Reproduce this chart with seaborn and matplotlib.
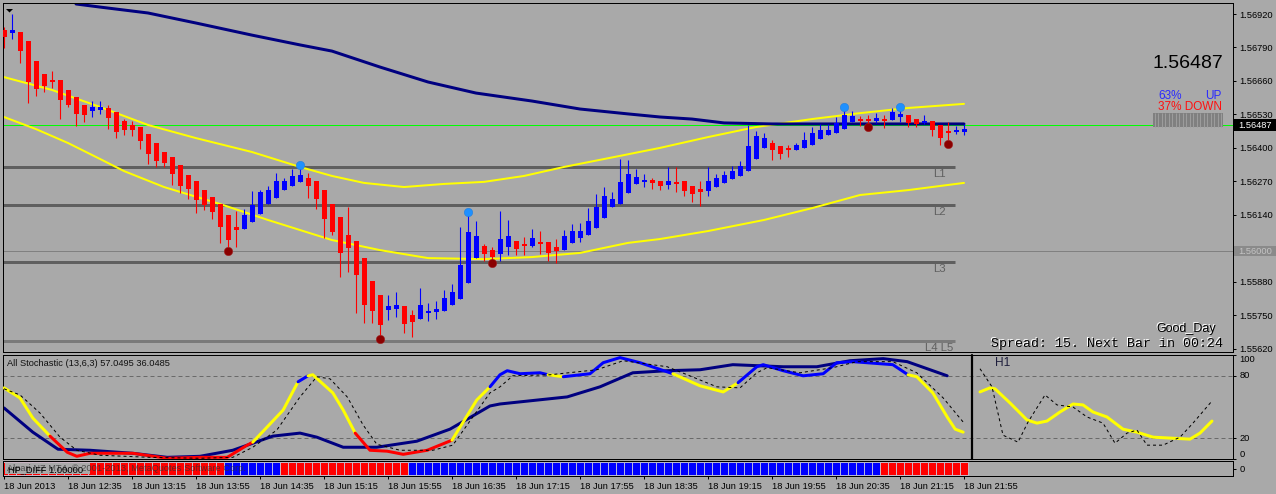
import matplotlib
matplotlib.use("Agg")
import matplotlib.pyplot as plt
import seaborn as sns
import numpy as np
from matplotlib.patches import Rectangle, Polygon

# ---------------- data ----------------
bar_open = [1.56858, 1.56846, 1.56850, 1.56815, 1.56737, 1.56687, 1.56660, 1.56664, 1.56625, 1.56598,
            1.56567, 1.56543, 1.56547, 1.56555, 1.56539, 1.56504, 1.56489, 1.56481, 1.56454, 1.56419,
            1.56384, 1.56365, 1.56333, 1.56295, 1.56271, 1.56236, 1.56209, 1.56182, 1.56139, 1.56093,
            1.56085, 1.56112, 1.56143, 1.56182, 1.56205, 1.56236, 1.56252, 1.56267, 1.56283, 1.56271,
            1.56236, 1.56182, 1.56132, 1.56062, 1.56038, 1.55972, 1.55883, 1.55829, 1.55770, 1.55774,
            1.55786, 1.55751, 1.55735, 1.55759, 1.55763, 1.55766, 1.55790, 1.55813, 1.55875, 1.55972,
            1.56019, 1.56003, 1.55988, 1.56015, 1.56038, 1.56023, 1.56019, 1.56034, 1.56034, 1.56015,
            1.56003, 1.56031, 1.56050, 1.56062, 1.56089, 1.56128, 1.56170, 1.56182, 1.56225, 1.56260,
            1.56271, 1.56275, 1.56271, 1.56256, 1.56267, 1.56271, 1.56252, 1.56236, 1.56233, 1.56248,
            1.56264, 1.56279, 1.56291, 1.56310, 1.56357, 1.56400, 1.56419, 1.56407, 1.56396, 1.56392,
            1.56400, 1.56411, 1.56434, 1.56450, 1.56458, 1.56473, 1.56501, 1.56512, 1.56512, 1.56504,
            1.56512, 1.56508, 1.56520, 1.56528, 1.56512, 1.56501, 1.56504, 1.56489, 1.56462, 1.56466,
            1.56462]
bar_high = [1.56869, 1.56920, 1.56850, 1.56815, 1.56737, 1.56687, 1.56699, 1.56664, 1.56625, 1.56598,
            1.56567, 1.56582, 1.56582, 1.56567, 1.56539, 1.56512, 1.56504, 1.56481, 1.56454, 1.56419,
            1.56384, 1.56365, 1.56333, 1.56295, 1.56271, 1.56236, 1.56209, 1.56182, 1.56139, 1.56155,
            1.56163, 1.56233, 1.56236, 1.56252, 1.56302, 1.56283, 1.56318, 1.56326, 1.56302, 1.56271,
            1.56236, 1.56182, 1.56132, 1.56170, 1.56038, 1.55972, 1.55883, 1.55829, 1.55829, 1.55840,
            1.55786, 1.55770, 1.55856, 1.55797, 1.55805, 1.55848, 1.55871, 1.56093, 1.56147, 1.56116,
            1.56027, 1.56015, 1.56155, 1.56120, 1.56038, 1.56054, 1.56085, 1.56077, 1.56034, 1.56046,
            1.56081, 1.56104, 1.56108, 1.56166, 1.56221, 1.56248, 1.56229, 1.56357, 1.56353, 1.56318,
            1.56299, 1.56283, 1.56271, 1.56326, 1.56326, 1.56271, 1.56252, 1.56271, 1.56326, 1.56299,
            1.56310, 1.56330, 1.56349, 1.56489, 1.56466, 1.56458, 1.56431, 1.56407, 1.56411, 1.56419,
            1.56462, 1.56481, 1.56493, 1.56493, 1.56520, 1.56551, 1.56543, 1.56524, 1.56528, 1.56535,
            1.56528, 1.56555, 1.56555, 1.56528, 1.56512, 1.56528, 1.56504, 1.56489, 1.56501, 1.56485,
            1.56493]
bar_low = [1.56788, 1.56823, 1.56730, 1.56574, 1.56601, 1.56617, 1.56633, 1.56512, 1.56559, 1.56485,
           1.56501, 1.56520, 1.56532, 1.56473, 1.56438, 1.56450, 1.56446, 1.56396, 1.56337, 1.56326,
           1.56326, 1.56256, 1.56225, 1.56201, 1.56147, 1.56159, 1.56124, 1.56031, 1.56015, 1.56015,
           1.56085, 1.56112, 1.56143, 1.56182, 1.56205, 1.56236, 1.56252, 1.56267, 1.56205, 1.56163,
           1.56050, 1.56062, 1.55898, 1.55918, 1.55759, 1.55720, 1.55720, 1.55673, 1.55731, 1.55743,
           1.55681, 1.55665, 1.55735, 1.55728, 1.55735, 1.55766, 1.55790, 1.55813, 1.55875, 1.55972,
           1.55961, 1.55965, 1.55961, 1.55984, 1.55984, 1.55984, 1.56015, 1.55988, 1.55961, 1.55953,
           1.56003, 1.56031, 1.56034, 1.56062, 1.56089, 1.56128, 1.56170, 1.56182, 1.56225, 1.56260,
           1.56248, 1.56240, 1.56236, 1.56240, 1.56229, 1.56213, 1.56190, 1.56174, 1.56213, 1.56248,
           1.56264, 1.56279, 1.56291, 1.56310, 1.56357, 1.56400, 1.56353, 1.56357, 1.56365, 1.56392,
           1.56400, 1.56411, 1.56434, 1.56450, 1.56458, 1.56473, 1.56501, 1.56485, 1.56477, 1.56497,
           1.56477, 1.56508, 1.56501, 1.56481, 1.56481, 1.56493, 1.56446, 1.56411, 1.56431, 1.56454,
           1.56450]
bar_close = [1.56831, 1.56858, 1.56776, 1.56656, 1.56629, 1.56640, 1.56656, 1.56586, 1.56567, 1.56532,
             1.56528, 1.56559, 1.56559, 1.56516, 1.56462, 1.56469, 1.56469, 1.56427, 1.56376, 1.56349,
             1.56341, 1.56299, 1.56252, 1.56240, 1.56198, 1.56178, 1.56151, 1.56093, 1.56042, 1.56081,
             1.56139, 1.56178, 1.56229, 1.56236, 1.56271, 1.56271, 1.56291, 1.56295, 1.56252, 1.56201,
             1.56124, 1.56073, 1.55992, 1.56011, 1.55906, 1.55790, 1.55766, 1.55712, 1.55786, 1.55790,
             1.55716, 1.55724, 1.55790, 1.55766, 1.55774, 1.55817, 1.55840, 1.55945, 1.56073, 1.56058,
             1.55988, 1.55976, 1.56046, 1.56058, 1.56007, 1.56019, 1.56050, 1.56031, 1.55992, 1.55999,
             1.56058, 1.56077, 1.56077, 1.56116, 1.56170, 1.56213, 1.56201, 1.56267, 1.56299, 1.56287,
             1.56275, 1.56264, 1.56252, 1.56271, 1.56264, 1.56233, 1.56221, 1.56233, 1.56271, 1.56283,
             1.56295, 1.56310, 1.56330, 1.56407, 1.56446, 1.56438, 1.56392, 1.56376, 1.56392, 1.56411,
             1.56431, 1.56458, 1.56469, 1.56469, 1.56497, 1.56528, 1.56524, 1.56504, 1.56504, 1.56516,
             1.56508, 1.56539, 1.56532, 1.56497, 1.56493, 1.56504, 1.56469, 1.56438, 1.56458, 1.56469,
             1.56473]

ma_slow_bar = [9, 12, 18, 24, 31, 37, 41, 47, 53, 59, 66, 72, 78, 82, 86, 90, 96, 120]
ma_slow_val = [1.56959, 1.56947, 1.56924, 1.56885, 1.56838, 1.56800, 1.56776, 1.56714, 1.56656,
               1.56613, 1.56582, 1.56551, 1.56532, 1.56520, 1.56512, 1.56497, 1.56493, 1.56493]

band_up_bar = [0, 6, 12, 18, 24, 31, 37, 41, 45, 50, 55, 60, 65, 70, 77, 82, 88, 94, 101, 107, 113, 120]
band_up_val = [1.56675, 1.56625, 1.56559, 1.56489, 1.56438, 1.56384, 1.56326, 1.56291, 1.56264, 1.56248,
               1.56260, 1.56268, 1.56291, 1.56326, 1.56369, 1.56400, 1.56442, 1.56481, 1.56512, 1.56535,
               1.56555, 1.56571]

band_lo_bar = [0, 4, 8, 12, 15, 20, 27, 33, 41, 47, 53, 60, 66, 72, 78, 82, 88, 95, 101, 107, 113, 120]
band_lo_val = [1.56520, 1.56473, 1.56419, 1.56357, 1.56310, 1.56248, 1.56182, 1.56120, 1.56042, 1.56003,
               1.55972, 1.55968, 1.55976, 1.55992, 1.56031, 1.56046, 1.56077, 1.56120, 1.56166, 1.56217,
               1.56236, 1.56264]

level_names = ["L1", "L2", "L3", "L4 L5"]
level_vals = [1.56326, 1.56178, 1.55957, 1.55650]
level_end_bar = 118.9
bid_price = 1.56487
round_price = 1.56000

up_dot_bar = [37, 58, 105, 112]
up_dot_val = [1.56334, 1.56151, 1.56559, 1.56559]
dn_dot_bar = [28, 47, 61, 108, 118]
dn_dot_val = [1.55999, 1.55658, 1.55953, 1.56481, 1.56415]

price_ticks = [1.55620, 1.55750, 1.55880, 1.56010, 1.56140, 1.56270, 1.56400, 1.56530, 1.56660, 1.56790, 1.56920]

st_main_bar = [0, 2, 3.6, 5.75, 7.9, 9.1, 10.75, 16.1, 20.4, 24.5, 27.9, 30.4, 31.1, 34.9, 36.75, 38, 38.6,
               41.1, 42.4, 43.9, 45.75, 47.9, 49.9, 52.9, 56, 59.1, 60.75, 62, 62.9, 64.5, 67, 68, 69.9,
               73.25, 74.9, 77, 79.5, 83.6, 87, 89.9, 91.75, 94.1, 94.9, 97.4, 99.9, 102.4, 104.1, 106.1,
               111.1, 113, 114.1, 116.1, 117.9, 118.9, 119.9]
st_main_val = [68.4, 58.7, 39.4, 22.0, 6.5, 2.6, 5.5, 5.5, 0.7, 1.6, 1.6, 13.3, 16.2, 47.1, 74.2, 80.0, 81.0,
               63.6, 47.1, 24.9, 8.4, 7.5, 4.5, 8.4, 18.1, 56.8, 69.4, 81.0, 84.9, 82.0, 82.9, 81.0, 79.1,
               82.0, 92.6, 97.5, 92.6, 82.0, 70.4, 64.5, 73.3, 88.7, 90.7, 84.9, 80.0, 82.0, 92.6, 93.6,
               90.7, 81.0, 79.1, 63.6, 40.4, 28.7, 25.8]
st_main_col = ("YYY" + "RRRRRRRRR" + "YY" + "B" + "YYYY" + "RRRRR" + "YY" + "BBBBB" + "Y" + "BBBBB"
               + "YYY" + "BBBBBBBBB" + "YYYYYY")

st_sig_bar = [0, 2, 4.5, 7, 9.1, 12, 18.25, 24.5, 28.6, 31.1, 34.1, 37, 39.1, 40.75, 42.9, 44.9, 46.6, 49.5,
              53.6, 56.1, 58.6, 60.75, 62, 63.6, 68.25, 74.1, 77.4, 82.9, 85.4, 89.1, 92, 94.1, 95.4, 99.5,
              103.6, 106.6, 111.1, 114.1, 117.4, 119.9]
st_sig_val = [67.5, 61.6, 44.2, 21.0, 8.4, 3.6, 1.6, 0.7, 1.6, 11.3, 27.8, 59.7, 79.1, 77.1, 59.7, 32.6, 14.2,
              8.4, 8.4, 13.3, 40.4, 63.6, 69.4, 80.0, 81.0, 85.8, 94.5, 88.7, 81.0, 69.4, 68.4, 82.9, 87.8,
              82.9, 87.8, 93.6, 93.6, 82.9, 58.7, 35.5]

st_slow_bar = [0, 3.6, 6.75, 10.75, 16.1, 20.4, 24.5, 28.6, 33.6, 37, 39.1, 42.4, 46.6, 51.6, 55.75, 60.75,
               62, 70.4, 74.5, 78.6, 82.9, 87, 91.1, 97.4, 101.6, 105.75, 109.9, 112.9, 117.9]
st_slow_val = [49.1, 25.8, 9.4, 8.4, 5.5, 1.6, 2.6, 8.4, 22.0, 24.9, 21.0, 11.3, 11.3, 17.1, 28.7, 51.0,
               52.9, 59.7, 69.4, 82.9, 84.9, 85.8, 90.7, 88.7, 88.7, 94.5, 96.5, 93.6, 80.0]

h1_main_pos = [8, 18, 23, 38, 55, 65, 75, 88, 101, 111, 121, 135, 151, 165, 181, 218, 228, 240]
h1_main_val = [64.5, 68.4, 67.5, 53.9, 37.5, 34.5, 36.5, 45.2, 52.9, 52.0, 45.2, 40.4, 28.7, 25.8, 21.0,
               19.1, 24.9, 36.5]
h1_sig_pos = [8, 20, 31, 46, 56, 73, 85, 101, 115, 131, 143, 155, 165, 175, 191, 208, 221, 240]
h1_sig_val = [86.8, 69.4, 22.9, 16.2, 35.5, 61.6, 52.0, 50.0, 40.4, 34.5, 15.2, 24.9, 27.8, 13.3, 13.3,
              21.0, 34.5, 55.8]

hp_runs = [("down", 28), ("up", 7), ("down", 16), ("up", 59), ("down", 11)]

time_labels = ["18 Jun 2013", "18 Jun 12:35", "18 Jun 13:15", "18 Jun 13:55", "18 Jun 14:35",
               "18 Jun 15:15", "18 Jun 15:55", "18 Jun 16:35", "18 Jun 17:15", "18 Jun 17:55",
               "18 Jun 18:35", "18 Jun 19:15", "18 Jun 19:55", "18 Jun 20:35", "18 Jun 21:15",
               "18 Jun 21:55"]
time_tick_bars = [0, 8, 16, 24, 32, 40, 48, 56, 64, 72, 80, 88, 96, 104, 112, 120]

stoch_title = "All Stochastic (13,6,3) 57.0495 36.0485"
up_pct, down_pct = 63, 37

# ---------------- style ----------------
BG = "#a9a9a9"
RED, BLUE, NAVY, YEL = "#ff0000", "#0000ff", "#000080", "#ffff00"
PX = 0.72  # one pixel in points
sns.set_theme(style="ticks", rc={"axes.facecolor": BG, "figure.facecolor": BG,
                                 "axes.edgecolor": "black", "axes.linewidth": PX,
                                 "xtick.color": "black", "ytick.color": "black",
                                 "text.color": "black"})
plt.rcParams["font.family"] = ["Liberation Sans", "DejaVu Sans"]
FS = 6.7

W, H = 1276, 494
fig = plt.figure(figsize=(W / 100, H / 100), dpi=100)


def px_axes(l, t, r, b, **kw):
    return fig.add_axes([l / W, 1 - b / H, (r - l) / W, (b - t) / H], **kw)


ov = px_axes(0, 0, W, H)
ov.set_zorder(10)
ov.set_xlim(0, W)
ov.set_ylim(H, 0)
ov.axis("off")
ov.patch.set_alpha(0)

XL = (-0.125, 153.625)

# ---------------- main price panel ----------------
ax = px_axes(3, 3, 1233, 352)
ax.set_xlim(*XL)
ax.set_ylim(1.556072, 1.569628)
ax.set_xticks([])
ax.yaxis.tick_right()
ax.set_yticks(price_ticks)
ax.set_yticklabels([f"{p:.5f}" for p in price_ticks])
ax.tick_params(axis="y", direction="out", length=2.5, width=PX, pad=2, labelsize=FS)

ax.axhline(round_price, color="#808080", lw=PX, zorder=1)
ax.axhline(bid_price, color="#00ff00", lw=PX, zorder=1)
for name, v in zip(level_names, level_vals):
    c = "#5f5f5f" if name != "L4 L5" else "#7a7a7a"
    ax.hlines(v, XL[0], level_end_bar, color=c, lw=3 * PX, zorder=1)

sns.lineplot(x=band_lo_bar, y=band_lo_val, ax=ax, color=YEL, linewidth=2 * PX, sort=False,
             estimator=None, zorder=2)
sns.lineplot(x=band_up_bar, y=band_up_val, ax=ax, color=YEL, linewidth=2 * PX, sort=False,
             estimator=None, zorder=2)
sns.lineplot(x=ma_slow_bar, y=ma_slow_val, ax=ax, color=NAVY, linewidth=3 * PX, sort=False,
             estimator=None, zorder=2)

o = np.array(bar_open); h = np.array(bar_high); l = np.array(bar_low); c = np.array(bar_close)
idx = np.arange(len(o))
cols = np.where(c >= o, BLUE, RED)
ax.vlines(idx, l, h, colors=cols, lw=PX * 1.1, zorder=3)
minb = 7.8e-5
body = np.abs(c - o)
bh = np.maximum(body, minb)
bb = np.minimum(o, c) - (bh - body) / 2
ax.bar(idx, bh, bottom=bb, width=0.625, color=cols, linewidth=0, zorder=4)

ax.scatter(up_dot_bar, up_dot_val, s=36, color="#1e90ff", edgecolor="#1e7fe0", linewidth=0.4, zorder=5)
ax.scatter(dn_dot_bar, dn_dot_val, s=36, color="#8b0000", edgecolor="#a02020", linewidth=0.4, zorder=5)

for name, y in zip(level_names, [174, 212, 269, 348]):
    xx = 933 if name != "L4 L5" else 925
    ax.text(xx, y, name, transform=ov.transData, fontsize=8.2, color="#606060", va="center",
            ha="left", clip_on=True, zorder=6)

# ---------------- stochastic panel ----------------
st = px_axes(3, 355, 1233, 459)
st.set_xlim(*XL)
st.set_ylim(0, 100)
st.set_xticks([])
st.yaxis.tick_right()
st.set_yticks([0, 20, 80, 100])
st.set_yticklabels(["0", "20", "80", "100"])
st.tick_params(axis="y", direction="out", length=2.5, width=PX, pad=2, labelsize=FS)
for lab, va in zip(st.get_yticklabels(), ["bottom", "center", "center", "top"]):
    lab.set_va(va)
for lv in (80, 20):
    st.axhline(lv, color="#6a6a6a", lw=PX, ls=(0, (4, 3)), zorder=1)

sns.lineplot(x=st_slow_bar, y=st_slow_val, ax=st, color=NAVY, linewidth=3 * PX, sort=False,
             estimator=None, zorder=2)
COLMAP = {"Y": YEL, "R": RED, "B": BLUE}
n = len(st_main_bar)
i = 0
while i < n - 1:
    j = i
    while j + 1 < n - 1 and st_main_col[j + 1] == st_main_col[i]:
        j += 1
    sns.lineplot(x=st_main_bar[i:j + 2], y=st_main_val[i:j + 2], ax=st, color=COLMAP[st_main_col[i]],
                 linewidth=3 * PX, sort=False, estimator=None, zorder=3)
    i = j + 1
sns.lineplot(x=st_sig_bar, y=st_sig_val, ax=st, color="black", linewidth=PX, sort=False,
             estimator=None, zorder=4, linestyle=(0, (3, 3)))

h1 = px_axes(972, 355, 1233, 459)
h1.set_xlim(0, 261)
h1.set_ylim(0, 100)
h1.axis("off")
h1.patch.set_alpha(0)
h1.axvline(0, color="black", lw=2.2 * PX, clip_on=False)
sns.lineplot(x=h1_main_pos, y=h1_main_val, ax=h1, color=YEL, linewidth=3 * PX, sort=False,
             estimator=None, zorder=3)
sns.lineplot(x=h1_sig_pos, y=h1_sig_val, ax=h1, color="black", linewidth=PX, sort=False,
             estimator=None, zorder=4, linestyle=(0, (3, 3)))

# ---------------- HP_DIFF panel ----------------
hp = px_axes(3, 461, 1233, 476)
hp.set_xlim(*XL)
hp.set_ylim(-0.06, 1.06)
hp_cols = []
for d, cnt in hp_runs:
    hp_cols += [RED if d == "down" else BLUE] * cnt
hp.bar(np.arange(len(hp_cols)), [1] * len(hp_cols), width=1.0, color=hp_cols, edgecolor="#c8c8d8",
       linewidth=0.6, zorder=2)
hp.yaxis.tick_right()
hp.set_yticks([0.5])
hp.set_yticklabels(["0"])
hp.tick_params(axis="y", direction="out", length=2.5, width=PX, pad=2, labelsize=FS)
hp.set_xticks(time_tick_bars)
hp.set_xticklabels(time_labels)
hp.tick_params(axis="x", direction="out", length=2.5, width=PX, pad=1.8, labelsize=FS)
for lab in hp.get_xticklabels():
    lab.set_ha("left")

# ---------------- overlay texts ----------------
ov.text(7, 363, stoch_title, fontsize=FS, va="center", ha="left", color="#111111")
ov.text(995, 363, "H1", fontsize=8.6, va="center", ha="left", color="#1e1e3c")
ov.add_patch(Rectangle((5, 463), 85, 11, facecolor=BG, edgecolor="none"))
ov.text(7, 468, "Alpari NZ MT4, \u00a9 2001-2013, MetaQuotes Software Corp.", fontsize=FS,
        va="center", ha="left", color="#303030", alpha=0.75)
ov.text(8, 470, "HP_DIFF 1.00000", fontsize=FS, va="center", ha="left", color="black")

ov.text(1223, 64, f"{bid_price:.5f}", fontsize=14, ha="right", va="center", color="black")
ov.text(1158, 96, f"{up_pct}%", fontsize=8.5, ha="left", va="center", color="#2a2aff")
ov.text(1222, 96, "UP", fontsize=8.5, ha="right", va="center", color="#2a2aff")
ov.text(1222, 106.5, f"{down_pct}% DOWN", fontsize=8.5, ha="right", va="center", color="#ff1010")
ov.add_patch(Rectangle((1153, 113), 70, 14, facecolor="#808080", edgecolor="none"))
for k in range(20):
    ov.vlines(1154.5 + 3.5 * k, 113, 127, color="#9c9c9c", lw=PX)

for dx, col in ((-1, "white"), (0, "black")):
    ov.text(1156 + dx, 329 + dx, "Good_Day", fontsize=9, ha="left", va="center", color=col)
    ov.text(1223 + dx, 344 + dx, "Spread: 15. Next Bar in 00:24", fontsize=9.5, ha="right",
            va="center", color=col, family=["Liberation Mono", "DejaVu Sans Mono"])

ov.add_patch(Rectangle((1234, 119), 42, 12, facecolor="black", edgecolor="none"))
ov.text(1238, 125, f"{bid_price:.5f}", fontsize=FS, ha="left", va="center", color="white")
ov.add_patch(Rectangle((1234, 246), 42, 10, facecolor="#8a8a8a", edgecolor="none"))
ov.text(1238, 251, f"{round_price:.5f}", fontsize=FS, ha="left", va="center", color="#c4c4c4")

ov.add_patch(Polygon([(6, 9), (13, 9), (9.5, 12.5)], closed=True, facecolor="black", edgecolor="none"))

fig.savefig("out.png", dpi=100, facecolor=BG)
